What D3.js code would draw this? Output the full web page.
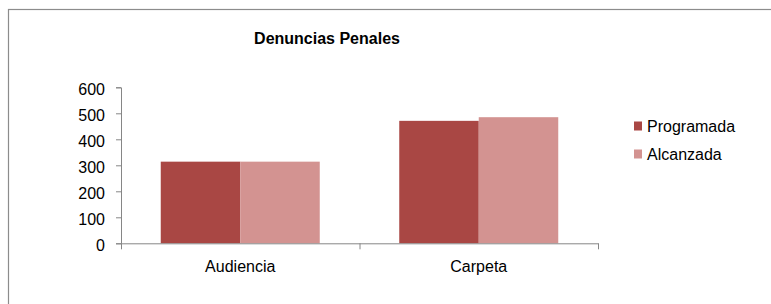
<!DOCTYPE html>
<html>
<head>
<meta charset="utf-8">
<script src="https://cdn.jsdelivr.net/npm/d3@7"></script>
<style>
  body { margin: 0; background: #fff; }
  svg { display: block; font-family: "Liberation Sans", Arial, sans-serif; }
</style>
</head>
<body>
<svg id="chart" width="771" height="304"></svg>
<script>
const categories = ["Audiencia", "Carpeta"];
const seriesNames = ["Programada", "Alcanzada"];
const programada = [314, 471];
const alcanzada = [314, 485];
const yTicks = [0, 100, 200, 300, 400, 500, 600];
const colors = ["#a94744", "#d39391"];

const svg = d3.select("#chart");

// outer frame (runs off right and bottom edges)
svg.append("rect")
  .attr("x", 8.5).attr("y", 9.5)
  .attr("width", 800).attr("height", 400)
  .attr("fill", "#fff")
  .attr("stroke", "#8c8c8c")
  .attr("stroke-width", 1.2);

const title = "Denuncias Penales";
svg.append("text")
  .attr("x", 327).attr("y", 44)
  .attr("text-anchor", "middle")
  .style("font-size", "16px")
  .style("font-weight", "bold")
  .text(title);

const plot = { left: 121, right: 598, top: 87.3, bottom: 243.3 };

const x0 = d3.scaleBand()
  .domain(categories)
  .range([plot.left, plot.right])
  .padding(0);

const x1 = d3.scaleBand()
  .domain(seriesNames)
  .range([0, x0.bandwidth()])
  .paddingInner(0)
  .paddingOuter(0.5);

const y = d3.scaleLinear()
  .domain([0, 600])
  .range([plot.bottom, plot.top]);

const data = categories.map((c, i) => ({
  category: c,
  values: [
    { name: seriesNames[0], value: programada[i] },
    { name: seriesNames[1], value: alcanzada[i] }
  ]
}));

// bars
svg.append("g")
  .selectAll("g")
  .data(data)
  .enter().append("g")
  .attr("transform", d => `translate(${x0(d.category)},0)`)
  .selectAll("rect")
  .data(d => d.values)
  .enter().append("rect")
  .attr("x", d => x1(d.name))
  .attr("width", x1.bandwidth())
  .attr("y", d => y(d.value))
  .attr("height", d => y(0) - y(d.value))
  .attr("fill", (d, i) => colors[i]);

// y axis
const yAxis = svg.append("g")
  .attr("transform", `translate(${plot.left},0)`)
  .call(d3.axisLeft(y).tickValues(yTicks).tickSize(5).tickPadding(11));
yAxis.select(".domain").attr("stroke", "#868686");
yAxis.selectAll(".tick line").attr("stroke", "#868686");
yAxis.selectAll(".tick text")
  .style("font-size", "16px")
  .attr("fill", "#000")
  .attr("dy", "0.42em");

// x axis
const xAxis = svg.append("g")
  .attr("transform", `translate(0,${plot.bottom})`)
  .call(d3.axisBottom(x0).tickSize(0).tickSizeOuter(0).tickPadding(17));
xAxis.select(".domain").attr("stroke", "#868686");
xAxis.selectAll(".tick text")
  .style("font-size", "16px")
  .attr("fill", "#000");

// category boundary tick marks
const bounds = [plot.left].concat(categories.map(c => x0(c) + x0.bandwidth()));
xAxis.selectAll(".bound")
  .data(bounds)
  .enter().append("line")
  .attr("class", "bound")
  .attr("x1", d => d + 0.5).attr("x2", d => d + 0.5)
  .attr("y1", 0).attr("y2", 6)
  .attr("stroke", "#868686");

// legend
const legend = svg.append("g")
  .selectAll("g")
  .data(seriesNames)
  .enter().append("g")
  .attr("transform", (d, i) => `translate(634,${126.5 + i * 28})`);
legend.append("rect")
  .attr("x", 0).attr("y", -5)
  .attr("width", 8).attr("height", 9)
  .attr("fill", (d, i) => colors[i]);
legend.append("text")
  .attr("x", 13).attr("y", 0)
  .attr("dy", "0.36em")
  .style("font-size", "16px")
  .text(d => d);
</script>
</body>
</html>
